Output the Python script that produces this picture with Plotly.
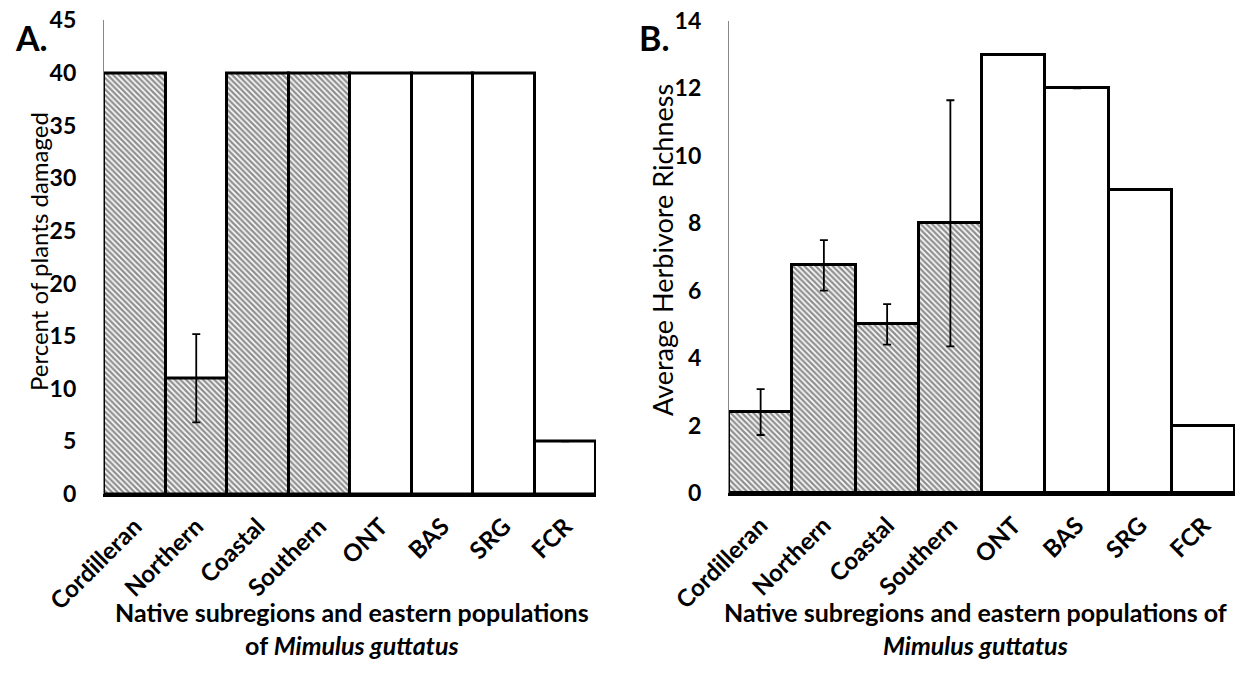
import plotly.graph_objects as go

categories = ["Cordilleran", "Northern", "Coastal", "Southern", "ONT", "BAS", "SRG", "FCR"]
pct_damaged = [40, 11, 40, 40, 40, 40, 40, 5]
pct_err = [0, 4.2, 0, 0, 0, 0, 0, 0]
richness = [2.4, 6.75, 5.0, 8.0, 13, 12, 9, 2]
rich_err = [0.68, 0.75, 0.6, 3.65, 0, 0, 0, 0]
hatched = ["\\", "\\", "\\", "\\", "", "", "", ""]
yticks_a = [0, 5, 10, 15, 20, 25, 30, 35, 40, 45]
yticks_b = [0, 2, 4, 6, 8, 10, 12, 14]

W, H = 1240, 683
FONT = "Lato"

def px_x(p):
    return p / W

def px_y(p):
    return 1 - p / H

fig = go.Figure()

def add_bars(vals, errs, xa, ya):
    fig.add_trace(go.Bar(
        x=categories, y=vals, xaxis=xa, yaxis=ya,
        marker=dict(
            color="white",
            line=dict(color="black", width=3),
            pattern=dict(shape=hatched, fgcolor="#222222", bgcolor="white",
                         size=4, solidity=0.6, fillmode="overlay"),
        ),
        error_y=dict(type="data", array=[e if e > 0 else None for e in errs],
                     symmetric=True, color="black", thickness=1.8, width=4,
                     visible=True),
        showlegend=False,
    ))

add_bars(pct_damaged, pct_err, "x", "y")
add_bars(richness, rich_err, "x2", "y2")

common_x = dict(tickangle=-45, tickfont=dict(family=FONT, size=24, color="black", weight="bold"),
                showline=True, linecolor="black", linewidth=3, ticks="", showgrid=False,
                zeroline=False, ticklabelstandoff=6, automargin=False)
common_y = dict(showline=True, linecolor="#888888", linewidth=1.2, ticks="", showgrid=False,
                zeroline=False, tickfont=dict(family=FONT, size=23, color="black", weight="bold"),
                ticklabelstandoff=22, automargin=False)

fig.update_layout(
    width=W, height=H,
    margin=dict(l=0, r=0, t=0, b=0, autoexpand=False),
    paper_bgcolor="white", plot_bgcolor="white",
    bargap=0,
    xaxis=dict(domain=[px_x(104), px_x(596)], anchor="y", **common_x),
    yaxis=dict(domain=[px_y(494), px_y(20.4)], anchor="x", range=[0, 45],
               tickvals=yticks_a, **common_y),
    xaxis2=dict(domain=[px_x(729), px_x(1235)], anchor="y2", **common_x),
    yaxis2=dict(domain=[px_y(493), px_y(21)], anchor="x2", range=[0, 14],
                tickvals=yticks_b, **common_y),
)

ann = [
    dict(text="A.", x=px_x(31), y=px_y(38), size=34),
    dict(text="B.", x=px_x(654), y=px_y(38), size=34),
]
for a in ann:
    fig.add_annotation(text=a["text"], x=a["x"], y=a["y"], xref="paper", yref="paper",
                       showarrow=False, xanchor="center", yanchor="middle",
                       font=dict(family=FONT, size=a["size"], color="black", weight="bold"))

# axis titles
fig.add_annotation(text="Percent of plants damaged", x=px_x(38), y=px_y(252), xref="paper", yref="paper",
                   textangle=-90, showarrow=False, xanchor="center", yanchor="middle",
                   font=dict(family=FONT, size=24, color="black"))
fig.add_annotation(text="Average Herbivore Richness", x=px_x(662), y=px_y(250), xref="paper", yref="paper",
                   textangle=-90, showarrow=False, xanchor="center", yanchor="middle",
                   font=dict(family=FONT, size=27, color="black"))
fig.add_annotation(text="Native subregions and eastern populations<br>of <i>Mimulus guttatus</i>",
                   x=px_x(352), y=px_y(628), xref="paper", yref="paper",
                   showarrow=False, xanchor="center", yanchor="middle", align="center",
                   font=dict(family=FONT, size=25, color="black", weight="bold"))
fig.add_annotation(text="Native subregions and eastern populations of<br><i>Mimulus guttatus</i>",
                   x=px_x(975), y=px_y(628), xref="paper", yref="paper",
                   showarrow=False, xanchor="center", yanchor="middle", align="center",
                   font=dict(family=FONT, size=25, color="black", weight="bold"))

fig.write_html("out.html")
